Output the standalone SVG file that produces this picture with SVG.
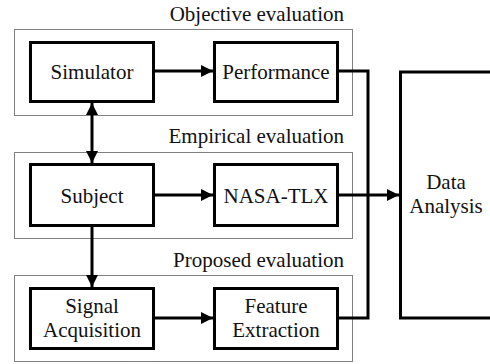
<svg xmlns="http://www.w3.org/2000/svg" width="490" height="364" viewBox="0 0 490 364">
<style>
.grp{fill:none;stroke:#000;stroke-width:1;stroke-dasharray:1 1}
.box{fill:#fff;stroke:#000;stroke-width:3}
.ln{fill:none;stroke:#000;stroke-width:3}
.c{text-anchor:middle}
.e{text-anchor:end}
</style>
<defs>
<marker id="ah" viewBox="0 0 12 12" refX="12" refY="6" markerWidth="12" markerHeight="12" markerUnits="userSpaceOnUse" orient="auto-start-reverse">
<path d="M0,0 L12,6 L0,12 Z" fill="#000"/>
</marker>
</defs>
<g font-family="Liberation Serif, Times New Roman, serif" font-size="21" fill="#111">
<g id="group-objective">
<rect class="grp" x="14.5" y="29.5" width="338" height="86"/>
<text class="e" x="344" y="21">Objective evaluation</text>
</g>
<g id="group-empirical">
<rect class="grp" x="14.5" y="152.5" width="338" height="86"/>
<text class="e" x="344" y="143">Empirical evaluation</text>
</g>
<g id="group-proposed">
<rect class="grp" x="14.5" y="275.5" width="338" height="86"/>
<text class="e" x="344" y="267">Proposed evaluation</text>
</g>
<g id="connectors">
<line class="ln" x1="155" y1="71" x2="213" y2="71" marker-end="url(#ah)"/>
<line class="ln" x1="155" y1="195" x2="213" y2="195" marker-end="url(#ah)"/>
<line class="ln" x1="155" y1="318" x2="213" y2="318" marker-end="url(#ah)"/>
<line class="ln" x1="92" y1="103" x2="92" y2="163" marker-start="url(#ah)" marker-end="url(#ah)"/>
<line class="ln" x1="92" y1="227" x2="92" y2="287" marker-end="url(#ah)"/>
<path class="ln" d="M339,71 H368 V318 H339"/>
<line class="ln" x1="339" y1="195" x2="399" y2="195" marker-end="url(#ah)"/>
</g>
<g id="simulator">
<rect class="box" x="30.5" y="42.5" width="123" height="59"/>
<text class="c" x="92" y="79">Simulator</text>
</g>
<g id="performance">
<rect class="box" x="214.5" y="42.5" width="123" height="59"/>
<text class="c" x="276" y="79">Performance</text>
</g>
<g id="subject">
<rect class="box" x="30.5" y="164.5" width="123" height="61"/>
<text class="c" x="92" y="203">Subject</text>
</g>
<g id="nasa-tlx">
<rect class="box" x="214.5" y="164.5" width="123" height="61"/>
<text class="c" x="276" y="203">NASA-TLX</text>
</g>
<g id="signal-acquisition">
<rect class="box" x="30.5" y="288.5" width="123" height="60"/>
<text class="c" x="92" y="313">Signal</text>
<text class="c" x="92" y="337">Acquisition</text>
</g>
<g id="feature-extraction">
<rect class="box" x="214.5" y="288.5" width="123" height="60"/>
<text class="c" x="276" y="313">Feature</text>
<text class="c" x="276" y="337">Extraction</text>
</g>
<g id="data-analysis">
<path class="ln" d="M492,72 H400.5 V318 H492"/>
<text class="c" x="446" y="189">Data</text>
<text class="c" x="446" y="213">Analysis</text>
</g>
</g>
</svg>
